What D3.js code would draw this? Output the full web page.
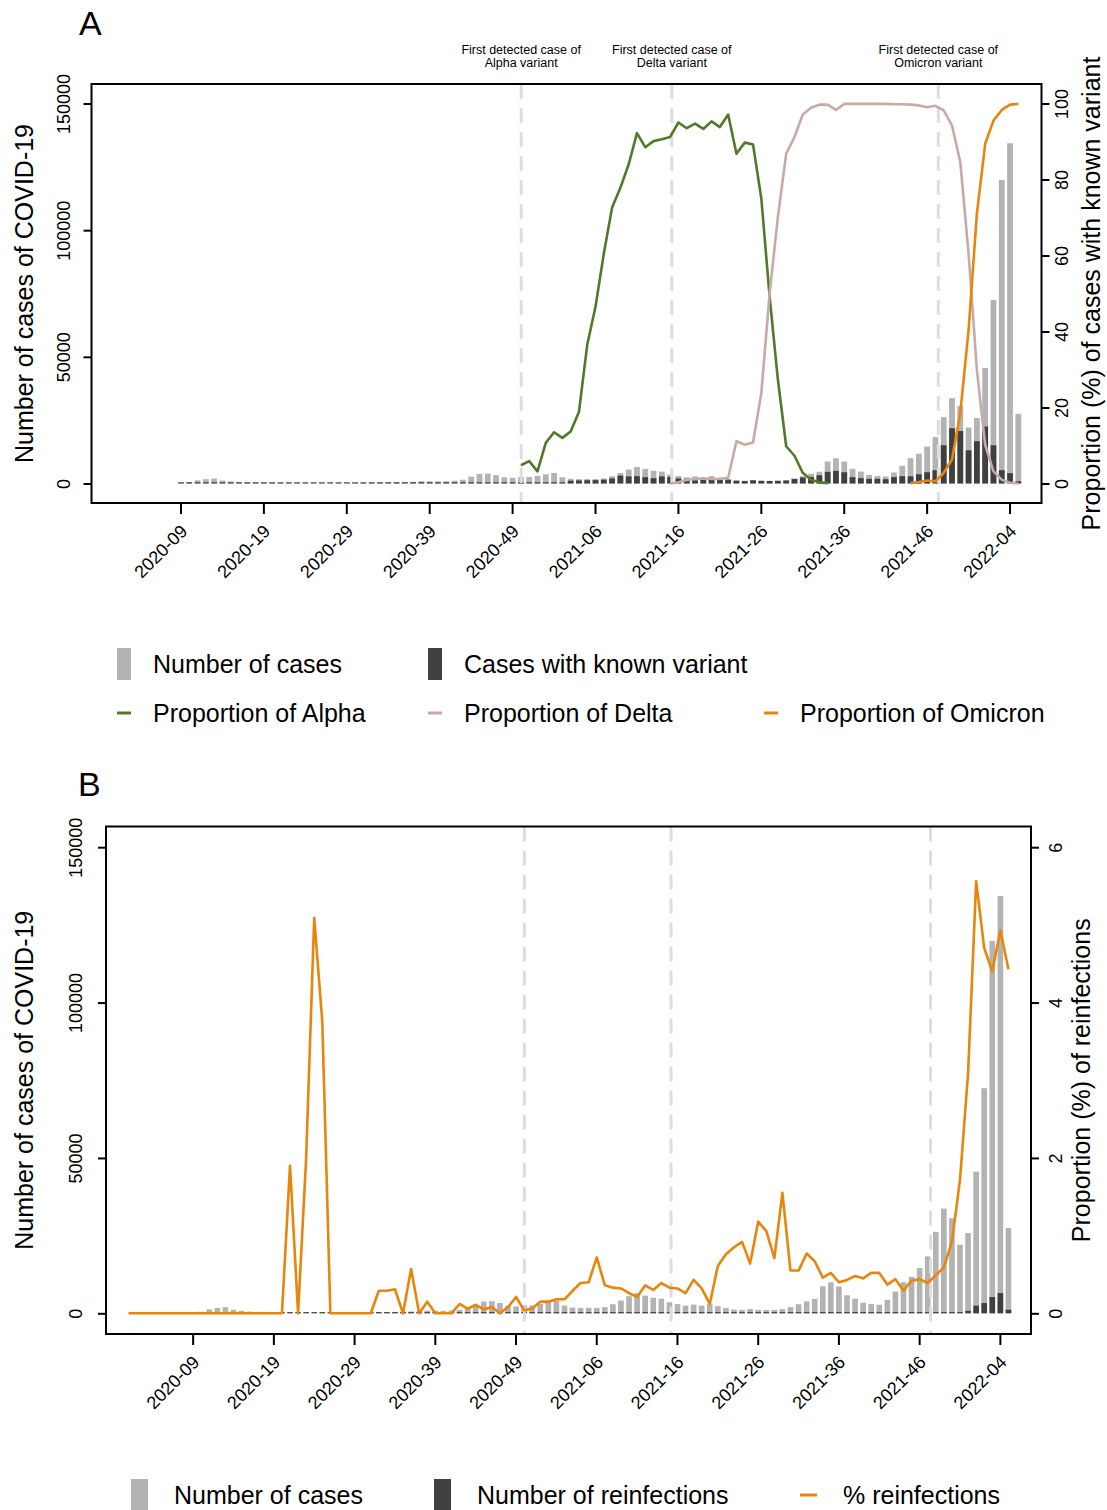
<!DOCTYPE html>
<html><head><meta charset="utf-8">
<script src="https://cdn.jsdelivr.net/npm/d3@7"></script>
<style>
body{margin:0;background:#fff}
svg{display:block}
text{font-family:"Liberation Sans",Arial,Helvetica,sans-serif;fill:#000}
</style>
</head><body>
<svg id="chart" width="1107" height="1510"></svg>
<script>
// ---------------- DATA ----------------
const weeks = [
"2020-01","2020-02","2020-03","2020-04","2020-05","2020-06","2020-07","2020-08","2020-09","2020-10",
"2020-11","2020-12","2020-13","2020-14","2020-15","2020-16","2020-17","2020-18","2020-19","2020-20",
"2020-21","2020-22","2020-23","2020-24","2020-25","2020-26","2020-27","2020-28","2020-29","2020-30",
"2020-31","2020-32","2020-33","2020-34","2020-35","2020-36","2020-37","2020-38","2020-39","2020-40",
"2020-41","2020-42","2020-43","2020-44","2020-45","2020-46","2020-47","2020-48","2020-49","2020-50",
"2020-51","2020-52","2020-53","2021-01","2021-02","2021-03","2021-04","2021-05","2021-06","2021-07",
"2021-08","2021-09","2021-10","2021-11","2021-12","2021-13","2021-14","2021-15","2021-16","2021-17",
"2021-18","2021-19","2021-20","2021-21","2021-22","2021-23","2021-24","2021-25","2021-26","2021-27",
"2021-28","2021-29","2021-30","2021-31","2021-32","2021-33","2021-34","2021-35","2021-36","2021-37",
"2021-38","2021-39","2021-40","2021-41","2021-42","2021-43","2021-44","2021-45","2021-46","2021-47",
"2021-48","2021-49","2021-50","2021-51","2021-52","2022-01","2022-02","2022-03","2022-04","2022-05"];

const tickWeeks = ["2020-09","2020-19","2020-29","2020-39","2020-49","2021-06","2021-16","2021-26","2021-36","2021-46","2022-04"];

const cases = [
0,0,0,0,0,0,0,0,150,500,
1250,1700,1950,1150,800,550,450,350,280,220,
200,170,150,130,100,90,80,80,90,120,
200,300,400,450,550,600,700,900,850,800,
900,1100,1500,2700,3800,3900,3300,2400,2250,2550,
2550,3000,3650,4150,2500,1850,1750,1750,1750,2000,
2900,4100,5500,6500,5700,5000,4700,3550,2950,2450,
2800,2450,2900,2300,1750,1180,1100,1350,1100,1050,
1100,1350,2000,2900,3850,4650,8700,9950,8650,5800,
4700,3400,2950,2750,4350,7000,10000,11750,14600,18300,
26200,33700,30600,22100,25800,45600,72450,119800,134300,27500];

const knownVariant = [
null,null,null,null,null,null,null,null,0,0,
0,0,0,0,0,0,0,0,0,0,
0,0,0,0,0,0,0,0,0,0,
0,0,0,0,0,0,0,0,0,0,
0,0,0,0,0,0,0,100,150,150,
150,150,200,250,400,1100,1200,1300,1350,1500,
2000,3100,2800,2900,2500,2100,2800,2600,2000,1600,
1250,1850,1600,1550,1450,1100,950,1250,1050,1000,
1050,1150,1750,2350,2600,3250,4600,5000,4450,2500,
2100,1850,1850,1700,2550,2900,2850,3650,4450,5250,
15100,21800,20700,13100,16700,22500,15100,5250,4100,900];

const propAlpha = [
null,null,null,null,null,null,null,null,null,null,
null,null,null,null,null,null,null,null,null,null,
null,null,null,null,null,null,null,null,null,null,
null,null,null,null,null,null,null,null,null,null,
null,null,null,null,null,null,null,null,null,4.8,
5.9,3.2,10.7,13.5,12.0,13.7,18.8,36.5,46.5,60.5,
72.6,77.8,84.0,92.2,88.5,90.1,90.6,91.2,95.0,93.5,
94.7,93.3,95.3,93.8,97.1,86.8,89.7,89.2,75.0,49.2,
27.3,9.8,7.3,2.8,1.0,0.3,0.1,null,null,null,
null,null,null,null,null,null,null,null,null,null,
null,null,null,null,null,null,null,null,null,null];

const propDelta = [
null,null,null,null,null,null,null,null,null,null,
null,null,null,null,null,null,null,null,null,null,
null,null,null,null,null,null,null,null,null,null,
null,null,null,null,null,null,null,null,null,null,
null,null,null,null,null,null,null,null,null,null,
null,null,null,null,null,null,null,null,null,null,
null,null,null,null,null,null,null,0.0,0.3,0.9,
1.2,1.3,1.2,1.2,1.5,11.1,10.2,10.8,23.8,50.0,
70.2,86.8,91.2,97.1,98.9,99.7,99.7,98.3,99.9,99.9,
99.9,99.9,99.9,99.9,99.8,99.8,99.7,99.5,99.0,99.4,
98.2,94.2,84.6,60.5,29.9,10.2,3.2,1.0,0.2,0.0];

const propOmicron = [
null,null,null,null,null,null,null,null,null,null,
null,null,null,null,null,null,null,null,null,null,
null,null,null,null,null,null,null,null,null,null,
null,null,null,null,null,null,null,null,null,null,
null,null,null,null,null,null,null,null,null,null,
null,null,null,null,null,null,null,null,null,null,
null,null,null,null,null,null,null,null,null,null,
null,null,null,null,null,null,null,null,null,null,
null,null,null,null,null,null,null,null,null,null,
null,null,null,null,null,null,0.1,0.4,0.8,0.6,
2.8,6.3,18.6,40.4,71.0,89.4,95.5,98.3,99.7,99.9];

const reinfections = [
null,null,null,null,null,null,null,null,0,0,
0,0,0,0,0,0,0,0,0,0,
4,0,3,7,4,0,0,0,0,0,
0,1,1,1,0,3,0,1,0,0,
0,1,1,3,2,3,0,2,5,1,
2,5,5,7,5,5,7,7,13,7,
10,13,14,14,21,15,18,12,9,6,
12,8,3,14,13,10,10,9,13,11,
8,21,11,16,30,31,40,52,35,25,
23,15,15,14,16,31,29,49,64,71,
128,199,282,350,780,2450,3300,5250,6500,1150];

const pctReinfections = [
0,0,0,0,0,0,0,0,0,0,
0,0,0,0,0,0,0,0,0,0,
1.9,0,2.0,5.09,3.75,0,0,0,0,0,
0,0.29,0.29,0.31,0,0.57,0,0.15,0,0,
0,0.12,0.06,0.11,0.05,0.08,0,0.08,0.21,0.04,
0.06,0.15,0.15,0.18,0.18,0.29,0.39,0.40,0.72,0.36,
0.33,0.32,0.26,0.21,0.36,0.30,0.39,0.33,0.32,0.26,
0.43,0.32,0.12,0.61,0.76,0.85,0.92,0.64,1.18,1.06,
0.71,1.55,0.55,0.55,0.77,0.67,0.46,0.52,0.40,0.43,
0.48,0.45,0.52,0.52,0.37,0.44,0.29,0.42,0.44,0.39,
0.49,0.59,0.92,1.72,3.09,5.56,4.70,4.40,4.93,4.43];

// first detection: week + fraction of the week
const firstDetected = [
  {week:"2020-50", frac:0.03, lines:["First detected case of","Alpha variant"]},
  {week:"2021-15", frac:0.2,  lines:["First detected case of","Delta variant"]},
  {week:"2021-47", frac:0.35, lines:["First detected case of","Omicron variant"]}];

const leftTicks = [0,50000,100000,150000];
const rightTicksA = [0,20,40,60,80,100];
const rightTicksB = [0,2,4,6];

const legendA = [
  [{label:"Number of cases", kind:"rect", color:"#b3b3b3"},
   {label:"Cases with known variant", kind:"rect", color:"#404040"}],
  [{label:"Proportion of Alpha", kind:"line", color:"#52792b"},
   {label:"Proportion of Delta", kind:"line", color:"#c6aba5"},
   {label:"Proportion of Omicron", kind:"line", color:"#e8850c"}]];
const legendB = [
  [{label:"Number of cases", kind:"rect", color:"#b3b3b3"},
   {label:"Number of reinfections", kind:"rect", color:"#404040"},
   {label:"% reinfections", kind:"line", color:"#e8850c"}]];

// ---------------- DRAW ----------------
const svg = d3.select("#chart");
const COL = {light:"#b3b3b3", dark:"#404040", alpha:"#52792b", delta:"#c6aba5", omicron:"#e8850c", ref:"#dddddd"};

function drawPanel(cfg){
  const g = svg.append("g");
  const x = d3.scaleBand().domain(weeks).range([cfg.L, cfg.R]).paddingInner(0.3).paddingOuter(2.445);
  const xc = w => x(w) + x.bandwidth()/2;
  const y = d3.scaleLinear().domain([0,150000]).range([cfg.B - cfg.pad, cfg.T + cfg.pad]);
  const y2 = d3.scaleLinear().domain([0,cfg.rightMax]).range([cfg.B - cfg.pad, cfg.T + cfg.pad]);

  // light bars
  g.append("g").selectAll("rect").data(weeks.map((w,i)=>({w, v:cases[i]})).filter(d=>d.v>0))
    .join("rect").attr("x",d=>x(d.w)).attr("width",x.bandwidth())
    .attr("y",d=>y(d.v)).attr("height",d=>y(0)-y(d.v)).attr("fill",COL.light);
  // dark bars
  g.append("g").selectAll("rect").data(weeks.map((w,i)=>({w, v:cfg.dark[i]})).filter(d=>d.v!=null))
    .join("rect").attr("x",d=>x(d.w)).attr("width",x.bandwidth())
    .attr("y",d=>Math.min(y(d.v), y(0)-1.2)).attr("height",d=>Math.max(1.2, y(0)-y(d.v))).attr("fill",COL.dark);

  // reference dashed lines
  const step = x.step();
  firstDetected.forEach(f=>{
    const px = xc(f.week) + f.frac*step;
    g.append("line").attr("x1",px).attr("x2",px).attr("y1",cfg.T).attr("y2",cfg.B)
      .attr("stroke",COL.ref).attr("stroke-width",3).attr("stroke-dasharray","15,9");
    if(cfg.annot){
      f.lines.forEach((t,k)=>{
        g.append("text").attr("x",px).attr("y",cfg.T - 30 + k*13).attr("text-anchor","middle")
          .attr("font-size","12.5px").text(t);
      });
    }
  });

  // lines
  cfg.lines.forEach(s=>{
    const line = d3.line().defined(d=>d.v!=null).x(d=>xc(d.w)).y(d=>y2(d.v));
    g.append("path").datum(weeks.map((w,i)=>({w, v:s.data[i]})))
      .attr("d",line).attr("fill","none").attr("stroke",s.color).attr("stroke-width",2.6)
      .attr("stroke-linejoin","round");
  });

  // box
  g.append("rect").attr("x",cfg.L).attr("y",cfg.T).attr("width",cfg.R-cfg.L).attr("height",cfg.B-cfg.T)
    .attr("fill","none").attr("stroke","#000").attr("stroke-width",2);

  // bottom axis
  const ax = g.append("g").attr("transform",`translate(0,${cfg.B})`)
    .call(d3.axisBottom(x).tickValues(tickWeeks).tickSize(11).tickSizeOuter(0));
  ax.select(".domain").remove();
  ax.selectAll(".tick line").attr("stroke","#000").attr("stroke-width",2);
  ax.selectAll(".tick text").attr("font-size","18px").attr("text-anchor","end")
    .attr("x",0).attr("y",0).attr("dy","0.35em")
    .attr("transform","translate(3,25) rotate(-45)");

  // left axis
  const al = g.append("g").attr("transform",`translate(${cfg.L},0)`)
    .call(d3.axisLeft(y).tickValues(leftTicks).tickSize(8).tickFormat(d3.format("d")));
  al.select(".domain").remove();
  al.selectAll(".tick line").attr("stroke","#000").attr("stroke-width",2);
  al.selectAll(".tick text").attr("font-size","18px").attr("text-anchor","middle")
    .attr("x",0).attr("y",-cfg.leftLbl).attr("dy",null).attr("transform","rotate(-90)");

  // right axis
  const ar = g.append("g").attr("transform",`translate(${cfg.R},0)`)
    .call(d3.axisRight(y2).tickValues(cfg.rightTicks).tickSize(8).tickFormat(d3.format("d")));
  ar.select(".domain").remove();
  ar.selectAll(".tick line").attr("stroke","#000").attr("stroke-width",2);
  ar.selectAll(".tick text").attr("font-size","18px").attr("text-anchor","middle")
    .attr("x",0).attr("y",cfg.rightLbl).attr("dy",null).attr("transform","rotate(-90)");

  // axis titles
  const cy = (cfg.T + cfg.B)/2;
  g.append("text").attr("transform",`translate(${cfg.leftTitleX},${cy}) rotate(-90)`)
    .attr("text-anchor","middle").attr("font-size","25px").text("Number of cases of COVID-19");
  g.append("text").attr("transform",`translate(${cfg.rightTitleX},${cy}) rotate(-90)`)
    .attr("text-anchor","middle").attr("font-size","25px").text(cfg.rightTitle);

  // panel letter
  g.append("text").attr("x",cfg.letterX).attr("y",cfg.letterY).attr("font-size","34px").text(cfg.letter);

  // legend
  cfg.legend.forEach((row,ri)=>{
    row.forEach((item,ci)=>{
      const lx = cfg.legX[ci], ly = cfg.legY[ri];
      if(item.kind==="rect"){
        g.append("rect").attr("x",lx).attr("y",ly-16).attr("width",cfg.legW).attr("height",32).attr("fill",item.color);
      } else {
        g.append("line").attr("x1",lx).attr("x2",lx+cfg.legW).attr("y1",ly).attr("y2",ly)
          .attr("stroke",item.color).attr("stroke-width",3);
      }
      g.append("text").attr("x",lx+cfg.legGap).attr("y",ly+9).attr("font-size","25px").text(item.label);
    });
  });
}

drawPanel({
  L:91.5, R:1041.5, T:84, B:503, pad:19.5, rightMax:100, rightTicks:rightTicksA,
  dark:knownVariant, annot:true,
  lines:[{data:propAlpha,color:COL.alpha},{data:propDelta,color:COL.delta},{data:propOmicron,color:COL.omicron}],
  leftLbl:22, rightLbl:26.5, leftTitleX:33, rightTitleX:1100,
  rightTitle:"Proportion (%) of cases with known variant",
  letter:"A", letterX:79, letterY:35,
  legend:legendA, legX:[117,428,764], legY:[664,713], legW:14, legGap:36
});

drawPanel({
  L:106, R:1031, T:826.5, B:1334, pad:20.7, rightMax:6, rightTicks:rightTicksB,
  dark:reinfections, annot:false,
  lines:[{data:pctReinfections,color:COL.omicron}],
  leftLbl:24, rightLbl:31, leftTitleX:33, rightTitleX:1090,
  rightTitle:"Proportion (%) of reinfections",
  letter:"B", letterX:78, letterY:796,
  legend:legendB, legX:[131,434,800], legY:[1495], legW:17, legGap:43
});
</script>
</body></html>
